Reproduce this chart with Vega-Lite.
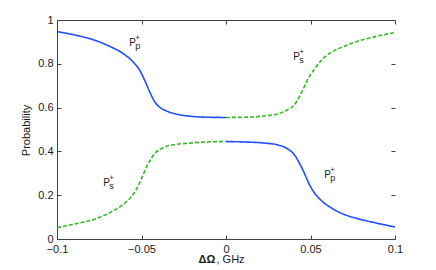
{
  "$schema": "https://vega.github.io/schema/vega-lite/v6.json",
  "width": 338,
  "height": 219,
  "autosize": "none",
  "padding": {"left": 57, "top": 20, "right": 41, "bottom": 31},
  "background": "white",
  "config": {
    "view": {"stroke": null},
    "font": "Liberation Sans",
    "axis": {
      "grid": false,
      "domainColor": "#404048",
      "domainWidth": 1,
      "tickColor": "#404048",
      "tickSize": -4,
      "labelFont": "Liberation Sans",
      "labelFontSize": 11,
      "labelColor": "#1a1a1a",
      "labelFlush": false,
      "labelOverlap": false,
      "titleFont": "Liberation Sans",
      "titleFontSize": 11,
      "titleColor": "#1a1a1a",
      "titleFontWeight": "normal"
    }
  },
  "datasets": {
    "curves": [
      {"x": -0.1, "y": 0.947, "curve": "Pp", "series": "b1"},
      {"x": -0.0886, "y": 0.93, "curve": "Pp", "series": "b1"},
      {"x": -0.0767, "y": 0.905, "curve": "Pp", "series": "b1"},
      {"x": -0.0689, "y": 0.88, "curve": "Pp", "series": "b1"},
      {"x": -0.0609, "y": 0.847, "curve": "Pp", "series": "b1"},
      {"x": -0.055, "y": 0.809, "curve": "Pp", "series": "b1"},
      {"x": -0.0511, "y": 0.771, "curve": "Pp", "series": "b1"},
      {"x": -0.0482, "y": 0.726, "curve": "Pp", "series": "b1"},
      {"x": -0.0452, "y": 0.673, "curve": "Pp", "series": "b1"},
      {"x": -0.0422, "y": 0.627, "curve": "Pp", "series": "b1"},
      {"x": -0.0393, "y": 0.602, "curve": "Pp", "series": "b1"},
      {"x": -0.0353, "y": 0.585, "curve": "Pp", "series": "b1"},
      {"x": -0.0294, "y": 0.57, "curve": "Pp", "series": "b1"},
      {"x": -0.0215, "y": 0.561, "curve": "Pp", "series": "b1"},
      {"x": -0.0117, "y": 0.556, "curve": "Pp", "series": "b1"},
      {"x": 0, "y": 0.555, "curve": "Pp", "series": "b1"},
      {"x": 0, "y": 0.445, "curve": "Pp", "series": "b2"},
      {"x": 0.0108, "y": 0.443, "curve": "Pp", "series": "b2"},
      {"x": 0.0227, "y": 0.438, "curve": "Pp", "series": "b2"},
      {"x": 0.0305, "y": 0.43, "curve": "Pp", "series": "b2"},
      {"x": 0.0364, "y": 0.412, "curve": "Pp", "series": "b2"},
      {"x": 0.0404, "y": 0.385, "curve": "Pp", "series": "b2"},
      {"x": 0.0434, "y": 0.347, "curve": "Pp", "series": "b2"},
      {"x": 0.0463, "y": 0.302, "curve": "Pp", "series": "b2"},
      {"x": 0.0493, "y": 0.249, "curve": "Pp", "series": "b2"},
      {"x": 0.0523, "y": 0.211, "curve": "Pp", "series": "b2"},
      {"x": 0.0562, "y": 0.177, "curve": "Pp", "series": "b2"},
      {"x": 0.0621, "y": 0.143, "curve": "Pp", "series": "b2"},
      {"x": 0.07, "y": 0.112, "curve": "Pp", "series": "b2"},
      {"x": 0.0779, "y": 0.093, "curve": "Pp", "series": "b2"},
      {"x": 0.0877, "y": 0.075, "curve": "Pp", "series": "b2"},
      {"x": 0.1, "y": 0.055, "curve": "Pp", "series": "b2"},
      {"x": -0.1, "y": 0.052, "curve": "Ps", "series": "g1"},
      {"x": -0.0886, "y": 0.07, "curve": "Ps", "series": "g1"},
      {"x": -0.0767, "y": 0.093, "curve": "Ps", "series": "g1"},
      {"x": -0.0689, "y": 0.12, "curve": "Ps", "series": "g1"},
      {"x": -0.0609, "y": 0.158, "curve": "Ps", "series": "g1"},
      {"x": -0.055, "y": 0.203, "curve": "Ps", "series": "g1"},
      {"x": -0.0511, "y": 0.256, "curve": "Ps", "series": "g1"},
      {"x": -0.0482, "y": 0.309, "curve": "Ps", "series": "g1"},
      {"x": -0.0452, "y": 0.355, "curve": "Ps", "series": "g1"},
      {"x": -0.0422, "y": 0.39, "curve": "Ps", "series": "g1"},
      {"x": -0.0393, "y": 0.408, "curve": "Ps", "series": "g1"},
      {"x": -0.0353, "y": 0.423, "curve": "Ps", "series": "g1"},
      {"x": -0.0294, "y": 0.432, "curve": "Ps", "series": "g1"},
      {"x": -0.0215, "y": 0.438, "curve": "Ps", "series": "g1"},
      {"x": -0.0117, "y": 0.443, "curve": "Ps", "series": "g1"},
      {"x": 0, "y": 0.445, "curve": "Ps", "series": "g1"},
      {"x": 0, "y": 0.555, "curve": "Ps", "series": "g2"},
      {"x": 0.0108, "y": 0.556, "curve": "Ps", "series": "g2"},
      {"x": 0.0227, "y": 0.562, "curve": "Ps", "series": "g2"},
      {"x": 0.0305, "y": 0.571, "curve": "Ps", "series": "g2"},
      {"x": 0.0364, "y": 0.59, "curve": "Ps", "series": "g2"},
      {"x": 0.0404, "y": 0.612, "curve": "Ps", "series": "g2"},
      {"x": 0.0434, "y": 0.65, "curve": "Ps", "series": "g2"},
      {"x": 0.0463, "y": 0.695, "curve": "Ps", "series": "g2"},
      {"x": 0.0493, "y": 0.741, "curve": "Ps", "series": "g2"},
      {"x": 0.0523, "y": 0.775, "curve": "Ps", "series": "g2"},
      {"x": 0.0562, "y": 0.814, "curve": "Ps", "series": "g2"},
      {"x": 0.0621, "y": 0.852, "curve": "Ps", "series": "g2"},
      {"x": 0.07, "y": 0.88, "curve": "Ps", "series": "g2"},
      {"x": 0.0779, "y": 0.903, "curve": "Ps", "series": "g2"},
      {"x": 0.0877, "y": 0.923, "curve": "Ps", "series": "g2"},
      {"x": 0.1, "y": 0.943, "curve": "Ps", "series": "g2"}
    ],
    "labels": [
      {"x": -0.0572, "y": 0.88, "base": "P", "sup": "+", "sub": "p"},
      {"x": 0.0398, "y": 0.817, "base": "P", "sup": "+", "sub": "s"},
      {"x": -0.0726, "y": 0.24, "base": "P", "sup": "+", "sub": "s"},
      {"x": 0.0582, "y": 0.28, "base": "P", "sup": "+", "sub": "p"}
    ]
  },
  "layer": [
    {
      "data": {"name": "curves"},
      "mark": {"type": "line", "interpolate": "monotone", "strokeWidth": 1.6},
      "encoding": {
        "x": {
          "field": "x", "type": "quantitative",
          "scale": {"domain": [-0.1, 0.1], "nice": false, "zero": false},
          "axis": {
            "orient": "bottom",
            "values": [-0.1, -0.05, 0, 0.05, 0.1],
            "format": "~g",
            "labelPadding": 8,
            "title": "ΔΩ",
            "titleFontWeight": "bold",
            "titleAlign": "left",
            "titleBaseline": "alphabetic",
            "titleAnchor": null,
            "titleX": 141,
            "titleY": 23
          }
        },
        "y": {
          "field": "y", "type": "quantitative",
          "scale": {"domain": [0, 1], "nice": false},
          "axis": {
            "orient": "left",
            "values": [0, 0.2, 0.4, 0.6, 0.8, 1],
            "format": "~g",
            "labelPadding": 8,
            "title": "Probability",
            "titleAngle": -90,
            "titleAlign": "center",
            "titleBaseline": "alphabetic",
            "titleX": -28,
            "titleY": 110
          }
        },
        "detail": {"field": "series"},
        "color": {
          "field": "curve", "type": "nominal",
          "scale": {"domain": ["Pp", "Ps"], "range": ["#1f4fff", "#33bb22"]},
          "legend": null
        },
        "strokeDash": {
          "field": "curve", "type": "nominal",
          "scale": {"domain": ["Pp", "Ps"], "range": [[1, 0], [4, 2]]},
          "legend": null
        }
      }
    },
    {
      "data": {"name": "labels"},
      "mark": {"type": "text", "align": "left", "baseline": "alphabetic", "fontSize": 10, "color": "#1a1a1a", "font": "Liberation Sans"},
      "encoding": {
        "x": {
          "field": "x", "type": "quantitative",
          "scale": {"domain": [-0.1, 0.1], "nice": false, "zero": false},
          "axis": {
            "orient": "top",
            "values": [-0.1, -0.05, 0, 0.05, 0.1],
            "labels": false,
            "title": ", GHz",
            "titleAlign": "left",
            "titleBaseline": "alphabetic",
            "titleAnchor": null,
            "titleX": 159,
            "titleY": 242
          }
        },
        "y": {
          "field": "y", "type": "quantitative",
          "scale": {"domain": [0, 1], "nice": false},
          "axis": {
            "orient": "right",
            "values": [0, 0.2, 0.4, 0.6, 0.8, 1],
            "labels": false,
            "domain": false,
            "title": null
          }
        },
        "text": {"field": "base"}
      }
    },
    {
      "data": {"name": "labels"},
      "mark": {"type": "text", "align": "left", "baseline": "alphabetic", "fontSize": 8, "dx": 6, "dy": -6, "color": "#1a1a1a", "font": "Liberation Sans"},
      "encoding": {
        "x": {"field": "x", "type": "quantitative", "axis": null},
        "y": {"field": "y", "type": "quantitative", "axis": null},
        "text": {"field": "sup"}
      }
    },
    {
      "data": {"name": "labels"},
      "mark": {"type": "text", "align": "left", "baseline": "alphabetic", "fontSize": 9, "dx": 6, "dy": 3, "color": "#1a1a1a", "font": "Liberation Sans"},
      "encoding": {
        "x": {"field": "x", "type": "quantitative", "axis": null},
        "y": {"field": "y", "type": "quantitative", "axis": null},
        "text": {"field": "sub"}
      }
    }
  ],
  "resolve": {"axis": {"x": "independent", "y": "independent"}}
}
